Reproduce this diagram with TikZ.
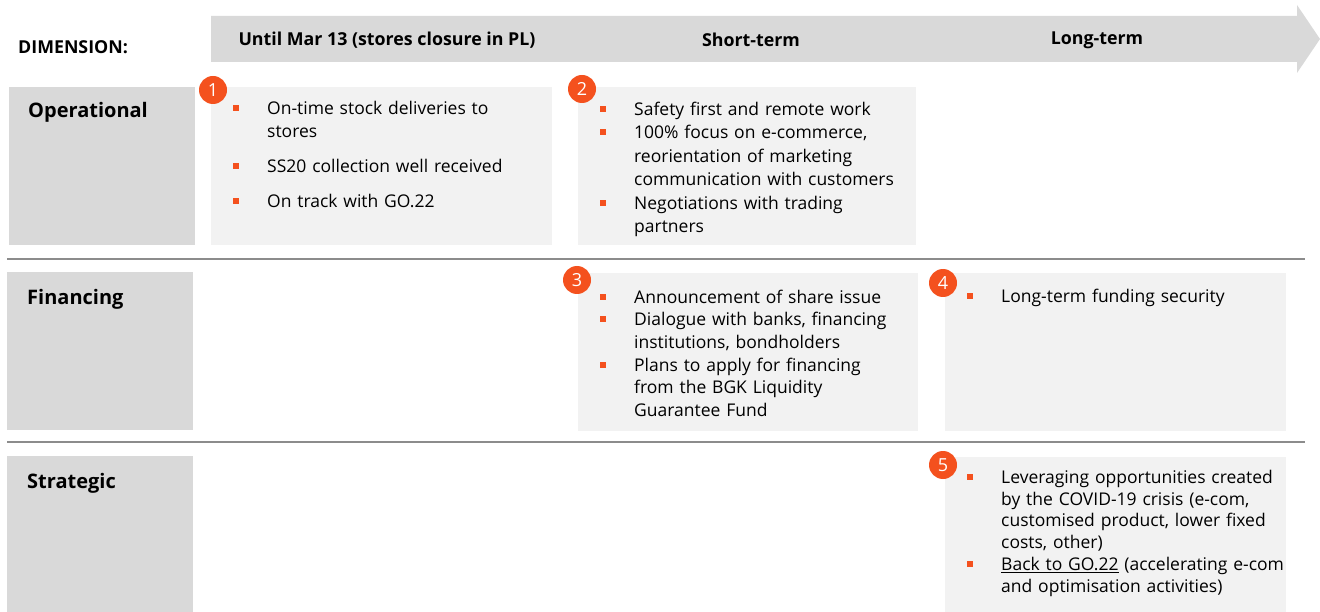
\documentclass[tikz,border=0pt]{standalone}
\usepackage{fontspec}
\setmainfont{Open Sans}
\usetikzlibrary{positioning}

\definecolor{headgray}{HTML}{D9D9D9}
\definecolor{cellgray}{HTML}{F2F2F2}
\definecolor{rulegray}{HTML}{8C8C8C}
\definecolor{accent}{HTML}{F4511E}

% bullet item with hanging indent
\newcommand{\itm}[1]{\par\noindent\hangindent=34pt\hangafter=1%
  \makebox[34pt][l]{\strut\textcolor{accent}{\rule[3.5pt]{6pt}{6pt}}}#1}

\tikzset{
  dimbox/.style={fill=headgray, inner sep=0, anchor=north west, minimum width=186, minimum height=158},
  dimlabel/.style={font=\bfseries\fontsize{20}{24}\selectfont, anchor=west, inner sep=0},
  cell/.style={fill=cellgray, inner sep=0, anchor=north west, minimum width=341, minimum height=158},
  celltext/.style={inner sep=0, anchor=north west, text width=320,
    font=\fontsize{17.5}{#1}\selectfont},
  celltext/.default=23,
  badge/.style={circle, fill=accent, text=white, inner sep=0, minimum size=28,
    font=\fontsize{18}{18}\selectfont},
  colhead/.style={font=\bfseries\fontsize{17.8}{20}\selectfont, inner sep=0},
  sep/.style={draw=rulegray, line width=2pt}
}

\begin{document}
\begin{tikzpicture}[x=1pt, y=-1pt]
    \useasboundingbox (0,0) rectangle (1320,612);

    % Time axis
    \fill[headgray] (211,16) -- (1297,16) -- (1297,5) -- (1320,39)
        -- (1297,73) -- (1297,62) -- (211,62) -- cycle;
    \node[colhead, anchor=west] (dim) at (18,47) {DIMENSION:};
    \node[colhead] (until) at (387,40) {Until Mar 13 (stores closure in PL)};
    \node[colhead] (short) at (751,40) {Short-term};
    \node[colhead] (long) at (1097,40) {Long-term};

    % Row labels
    \node[dimbox] (oper) at (9,87) {};
    \node[dimbox] (fin) at (7,272) {};
    \node[dimbox, minimum height=156] (strat) at (7,456) {};
    \node[dimlabel] at (28,112) {Operational};
    \node[dimlabel] at (27,299) {Financing};
    \node[dimlabel] at (27,483) {Strategic};

    % Row separators
    \coordinate (s1a) at (7,259);
    \coordinate (s1b) at (1305,259);
    \coordinate (s2a) at (7,442);
    \coordinate (s2b) at (1305,442);
    \draw[sep] (s1a) -- (s1b);
    \draw[sep] (s2a) -- (s2b);

    % Cells
    \node[cell] (c1) at (211,87) {};
    \node[cell, minimum width=338] (c2) at (578,87) {};
    \node[cell, minimum width=340] (c3) at (578,273) {};
    \node[cell] (c4) at (945,273) {};
    \node[cell, minimum height=155] (c5) at (945,457) {};

    \node[celltext, yshift=-4.6] (t1) at ([xshift=22]c1.north west) {%
        \itm{On-time stock deliveries to\newline stores}%
        \setlength{\parskip}{12pt}%
        \itm{SS20 collection well received}
        \itm{On track with GO.22}\par};
    \node[celltext=23.5, yshift=-4.6] (t2) at ([xshift=22]c2.north west) {%
        \itm{Safety first and remote work}
        \itm{100\% focus on e-commerce,\newline reorientation of marketing\newline communication with customers}
        \itm{Negotiations with trading\newline partners}\par};
    \node[celltext=22.6, yshift=-7.6] (t3) at ([xshift=22]c3.north west) {%
        \itm{Announcement of share issue}
        \itm{Dialogue with banks, financing\newline institutions, bondholders}
        \itm{Plans to apply for financing\newline from the BGK Liquidity\newline Guarantee Fund}\par};
    \node[celltext, yshift=-6.6] (t4) at ([xshift=22]c4.north west) {%
        \itm{Long-term funding security}\par};
    \node[celltext=21.7, yshift=-4.6] (t5) at ([xshift=22]c5.north west) {%
        \itm{Leveraging opportunities created\newline by the COVID-19 crisis (e-com,\newline customised product, lower fixed\newline costs, other)}
        \itm{\underline{Back to GO.22} (accelerating e-com\newline and optimisation activities)}\par};

    % Numbered markers
    \node[badge] (b1) at (213,90) {1};
    \node[badge] (b2) at (582,89) {2};
    \node[badge] (b3) at (577,280) {3};
    \node[badge] (b4) at (943,283) {4};
    \node[badge] (b5) at (943,465) {5};
\end{tikzpicture}
\end{document}
